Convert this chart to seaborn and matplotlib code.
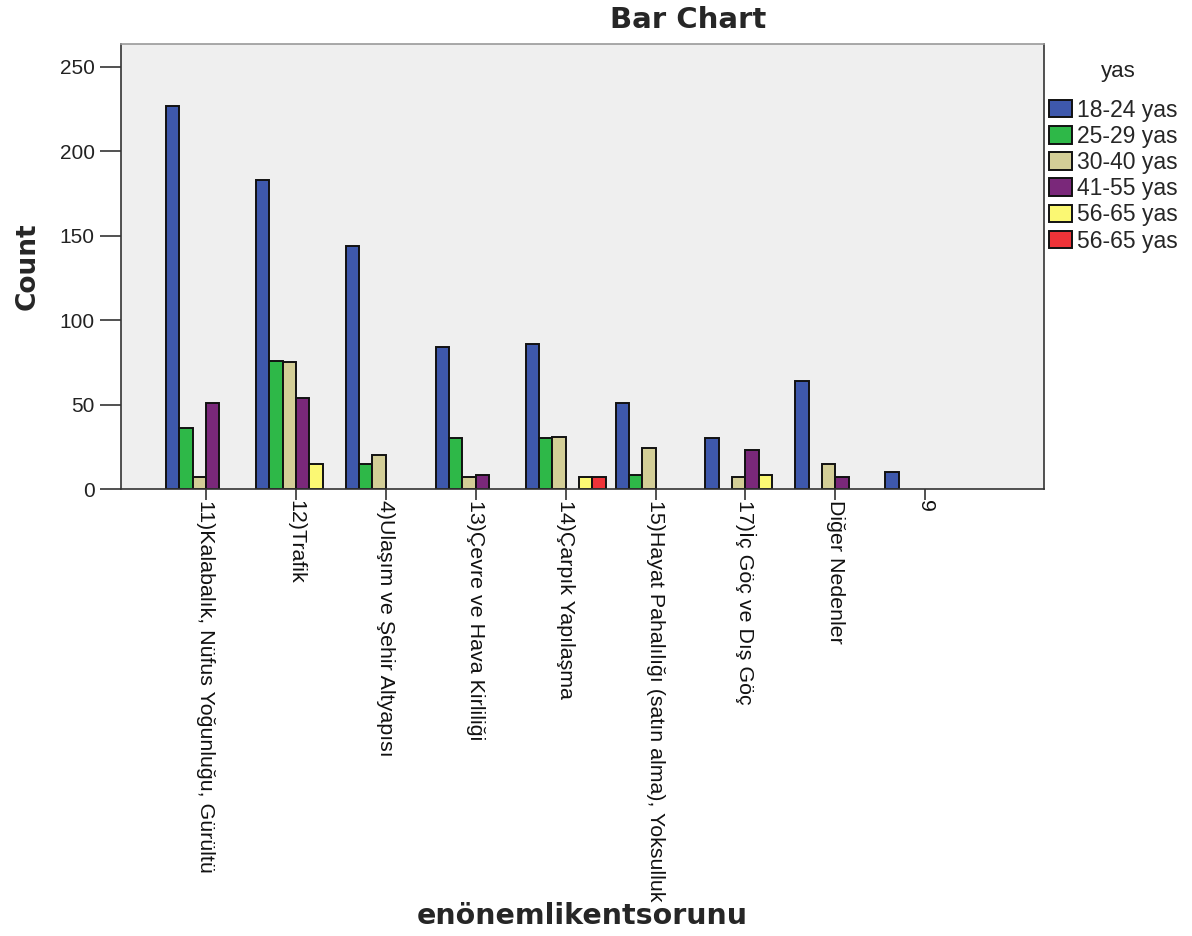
import pandas as pd
import matplotlib.pyplot as plt
import seaborn as sns

# category labels (x axis)
categories = [
    "11)Kalabalık, Nüfus Yoğunluğu, Gürültü",
    "12)Trafik",
    "4)Ulaşım ve Şehir Altyapısı",
    "13)Çevre ve Hava Kirliliği",
    "14)Çarpık Yapılaşma",
    "15)Hayat Pahalılığı (satın alma), Yoksulluk",
    "17)İç Göç ve Dış Göç",
    "Diğer Nedenler",
    "9",
]

# age groups (internal keys are unique, labels as shown in the legend)
age_codes = ["18-24", "25-29", "30-40", "41-55", "56-65a", "56-65b"]
age_labels = ["18-24 yas", "25-29 yas", "30-40 yas", "41-55 yas", "56-65 yas", "56-65 yas"]
colors = ["#3E58AC", "#2EB848", "#D3CE97", "#7A287A", "#FBF873", "#EF3338"]

# counts per category for each age group (None = no bar)
c_18_24 = [227, 183, 144, 84, 86, 51, 30, 64, 10]
c_25_29 = [36, 76, 15, 30, 30, 8, None, None, None]
c_30_40 = [7, 75, 20, 7, 31, 24, 7, 15, None]
c_41_55 = [51, 54, None, 8, None, None, 23, 7, None]
c_56_65 = [None, 15, None, None, 7, None, 8, None, None]
c_56_65b = [None, None, None, None, 7, None, None, None, None]

series = [c_18_24, c_25_29, c_30_40, c_41_55, c_56_65, c_56_65b]

rows = []
for code, vals in zip(age_codes, series):
    for cat, v in zip(categories, vals):
        if v is not None:
            rows.append({"enönemlikentsorunu": cat, "yas": code, "Count": v})
df = pd.DataFrame(rows)

sns.set_style("white")
plt.rcParams["font.family"] = ["Liberation Sans", "DejaVu Sans"]

fig = plt.figure(figsize=(11.92, 9.36), dpi=100)
ax = fig.add_axes([121 / 1192, 1 - 489 / 936, 923 / 1192, 445 / 936])
ax.set_facecolor("#EFEFEF")

sns.barplot(data=df, x="enönemlikentsorunu", y="Count", hue="yas",
            order=categories, hue_order=age_codes,
            palette=dict(zip(age_codes, colors)), saturation=1,
            width=0.89, edgecolor="#111111", linewidth=1.4,
            errorbar=None, ax=ax)

ax.set_xlim(-0.945, 9.32)
ax.set_ylim(0, 263.6)
ax.set_yticks([0, 50, 100, 150, 200, 250])

for s in ax.spines.values():
    s.set_color("#333333")
    s.set_linewidth(1.2)
ax.spines["top"].set_color("#999999")

ax.tick_params(axis="y", direction="out", length=15, width=1.2, color="#333333",
               pad=4, labelsize=15, labelcolor="#222222", left=True)
ax.tick_params(axis="x", direction="out", length=8, width=1.2, color="#333333",
               pad=0, labelsize=15.4, labelcolor="#111111", bottom=True)
ax.set_xticks(range(len(categories)))
ax.set_xticklabels(categories, rotation=-90, ha="center", va="top")

ax.set_ylabel("Count", fontsize=19, fontweight="bold", family="DejaVu Sans")
ax.yaxis.set_label_coords(-0.087, 0.5)
ax.set_xlabel("enönemlikentsorunu", fontsize=20.5, fontweight="bold", family="DejaVu Sans")
ax.xaxis.set_label_coords(0.5, -0.928)

fig.text(688 / 1192, 1 - 20 / 936, "Bar Chart", ha="center", va="center",
         fontsize=21, fontweight="bold", family="DejaVu Sans")

# legend (title drawn separately, SPSS leaves a gap under it)
fig.text(1118 / 1192, 1 - 72 / 936, "yas", ha="center", va="center",
         fontsize=16, color="#222222")
handles, _ = ax.get_legend_handles_labels()
ax.get_legend().remove()
leg = fig.legend(handles, age_labels, loc="upper left",
                 bbox_to_anchor=(1044 / 1192, 1 - 94 / 936),
                 frameon=False, fontsize=16.5,
                 handlelength=1.0, handleheight=0.8, handletextpad=0.22,
                 labelspacing=0.14, borderpad=0.2, borderaxespad=0)

plt.savefig("out.png", dpi=100)
